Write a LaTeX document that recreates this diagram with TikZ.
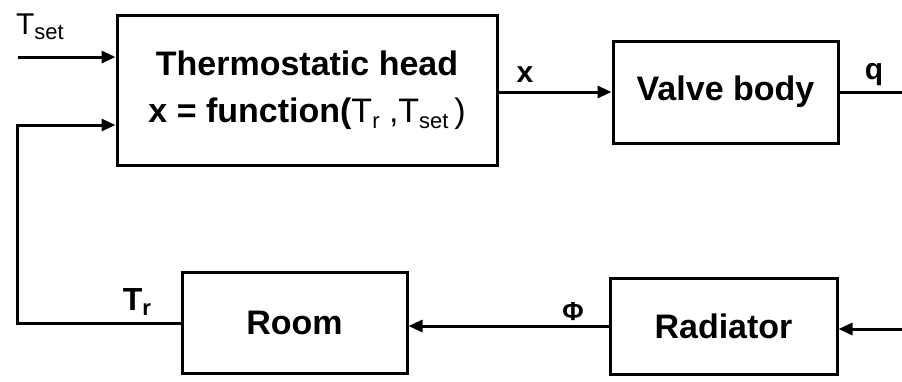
\documentclass[tikz,border=0pt]{standalone}
\usepackage{fontspec}
\setmainfont{Liberation Sans}
\usetikzlibrary{arrows.meta}
\newcommand\sbs[1]{\raisebox{-0.35ex}{\fontsize{22}{22}\selectfont\mdseries #1}}
\begin{document}
\begin{tikzpicture}[x=1pt,y=-1pt,
  blk/.style={draw,line width=3pt,inner sep=0pt,font=\fontsize{34}{47}\selectfont\bfseries,align=center},
  conn/.style={line width=3pt},
  arr/.style={conn,-{Triangle[length=14pt,width=12pt]}},
  lbl/.style={inner sep=0pt,font=\fontsize{30}{30}\selectfont}]
\useasboundingbox (0,0) rectangle (902,381);
\node[blk,minimum width=380pt,minimum height=150pt] (thermo) at (307,90)
  {Thermostatic head\\x = function(\mdseries T\sbs{r} ,T\sbs{set}\,)};
\node[blk,minimum width=225pt,minimum height=102pt] (valve) at (725.5,92) {Valve body};
\node[blk,minimum width=225pt,minimum height=101pt] (room) at (294.5,323) {Room};
\node[blk,minimum width=227pt,minimum height=96pt] (rad) at (723.5,326) {Radiator};
\coordinate (tin) at (18,57);
\coordinate (fb) at (17,125);
\coordinate (qout) at (902,92);
\coordinate (rin) at (902,329);
\draw[arr] (tin) -- (thermo.west |- tin);
\draw[arr] (room.west) -| (fb) -- (thermo.west |- fb);
\draw[arr] (thermo.east |- valve.west) -- (valve.west);
\draw[conn] (valve.east) -- (qout);
\draw[arr] (rin) -- (rad.east |- rin);
\draw[arr] (rad.west) -- (room.east |- rad.west);
\node[lbl] (tset) at (40,27) {T\sbs{set}};
\node[lbl,font=\fontsize{30}{30}\selectfont\bfseries] (xl) at (525,75) {x};
\node[lbl,font=\fontsize{30}{30}\selectfont\bfseries] (ql) at (874,75) {q};
\node[lbl,font=\fontsize{32}{32}\selectfont\bfseries] (trl) at (137,302) {T\raisebox{-0.35ex}{\fontsize{22}{22}\selectfont\bfseries r}};
\node[lbl,font=\fontsize{26}{26}\selectfont\bfseries] (phil) at (573,312) {Φ};
\end{tikzpicture}
\end{document}
